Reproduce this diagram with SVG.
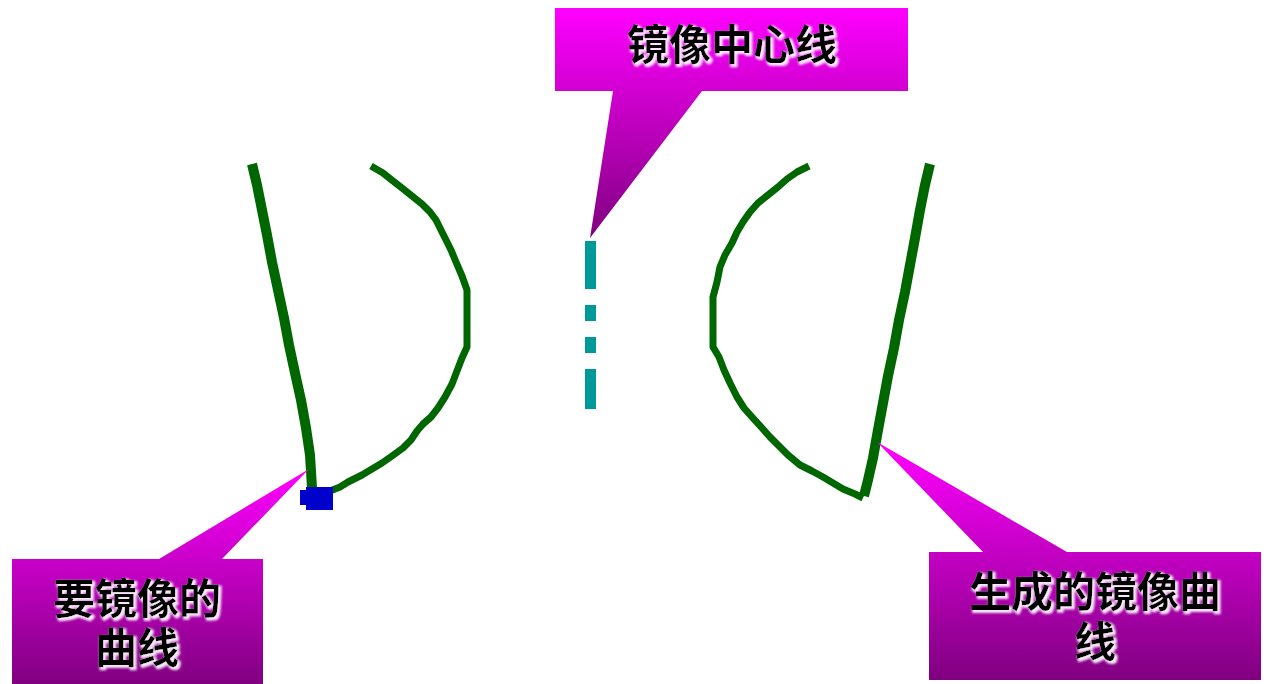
<svg xmlns="http://www.w3.org/2000/svg" width="1269" height="684" viewBox="0 0 1269 684">
<defs>
<linearGradient id="calloutGrad" x1="0" y1="0" x2="0" y2="1">
<stop offset="0" stop-color="#FF00FF"/>
<stop offset="1" stop-color="#800080"/>
</linearGradient>
<filter id="glow" x="-10%" y="-20%" width="120%" height="150%">
<feMorphology in="SourceAlpha" operator="dilate" radius="1" result="d"/>
<feOffset in="d" dx="2" dy="2" result="o"/>
<feGaussianBlur in="o" stdDeviation="1.2" result="b"/>
<feFlood flood-color="#FFFFFF" flood-opacity="0.9"/>
<feComposite in2="b" operator="in" result="w"/>
<feMerge><feMergeNode in="w"/><feMergeNode in="SourceGraphic"/></feMerge>
</filter>
</defs>
<style>
.callout{fill:url(#calloutGrad);}
.label{font-family:"Liberation Sans","Noto Sans CJK SC",sans-serif;font-weight:bold;font-size:42px;fill:#000000;text-anchor:middle;filter:url(#glow);}
.curve{fill:none;stroke:#006600;stroke-linejoin:round;stroke-linecap:butt;}
.axis{fill:#009999;}
</style>
<rect width="1269" height="684" fill="#FFFFFF"/>

<g id="source-curve">
<polyline class="curve" stroke-width="10" points="252,164 257,185 262,210 267,235 272,262 278,290 284,318 289,345 295,373 301,400 306,428 310,455 312,488"/>
<polyline class="curve" stroke-width="7" points="371,166 383,173 393,181 402,188 412,196 422,204 430,212 436,220 441,230 446,240 451,250 456,262 462,276 467,290 467,347 462,358 457,371 452,384 445,397 438,408 431,417 423,424 417,431 411,440 403,448 392,456 382,463 372,469 362,475 348,482 340,487 330,491"/>
<path fill="#0000CC" d="M306,487 H333 V510 H306 V505 H300 V490 H306 Z"/>
</g>

<g id="mirror-axis">
<rect class="axis" x="585" y="241" width="11" height="48"/>
<rect class="axis" x="585" y="305" width="11" height="16"/>
<rect class="axis" x="585" y="337" width="11" height="16"/>
<rect class="axis" x="585" y="369" width="11" height="40"/>
</g>

<g id="mirrored-curve">
<polyline class="curve" stroke-width="10" points="930,164 925,185 920,210 915,238 910,265 905,292 899,320 894,348 888,376 883,403 878,430 873,458 868,480 864,496"/>
<polyline class="curve" stroke-width="7" points="809,166 797,172 787,179 778,187 768,195 758,203 750,212 743,222 737,232 732,243 725,255 720,267 717,282 713,297 713,347 719,357 724,370 730,383 737,397 744,408 752,417 762,428 770,437 778,445 788,455 800,465 812,471 823,477 833,483 843,489 855,494 863,498"/>
</g>

<g id="callout-axis">
<path class="callout" d="M555,8 H908 V91 H702 L590,238 L613,91 H555 Z"/>
<text class="label" x="732" y="60">镜像中心线</text>
</g>

<g id="callout-source">
<path class="callout" d="M12,559 H159 L309,469 L222,559 H263 V684 H12 Z"/>
<text class="label" x="137" y="614">要镜像的</text>
<text class="label" x="137" y="663">曲线</text>
</g>

<g id="callout-result">
<path class="callout" d="M929,552 H983 L877,442 L1067,552 H1261 V680 H929 Z"/>
<text class="label" x="1095" y="607">生成的镜像曲</text>
<text class="label" x="1095" y="657">线</text>
</g>

<g id="connectors"></g>
</svg>
